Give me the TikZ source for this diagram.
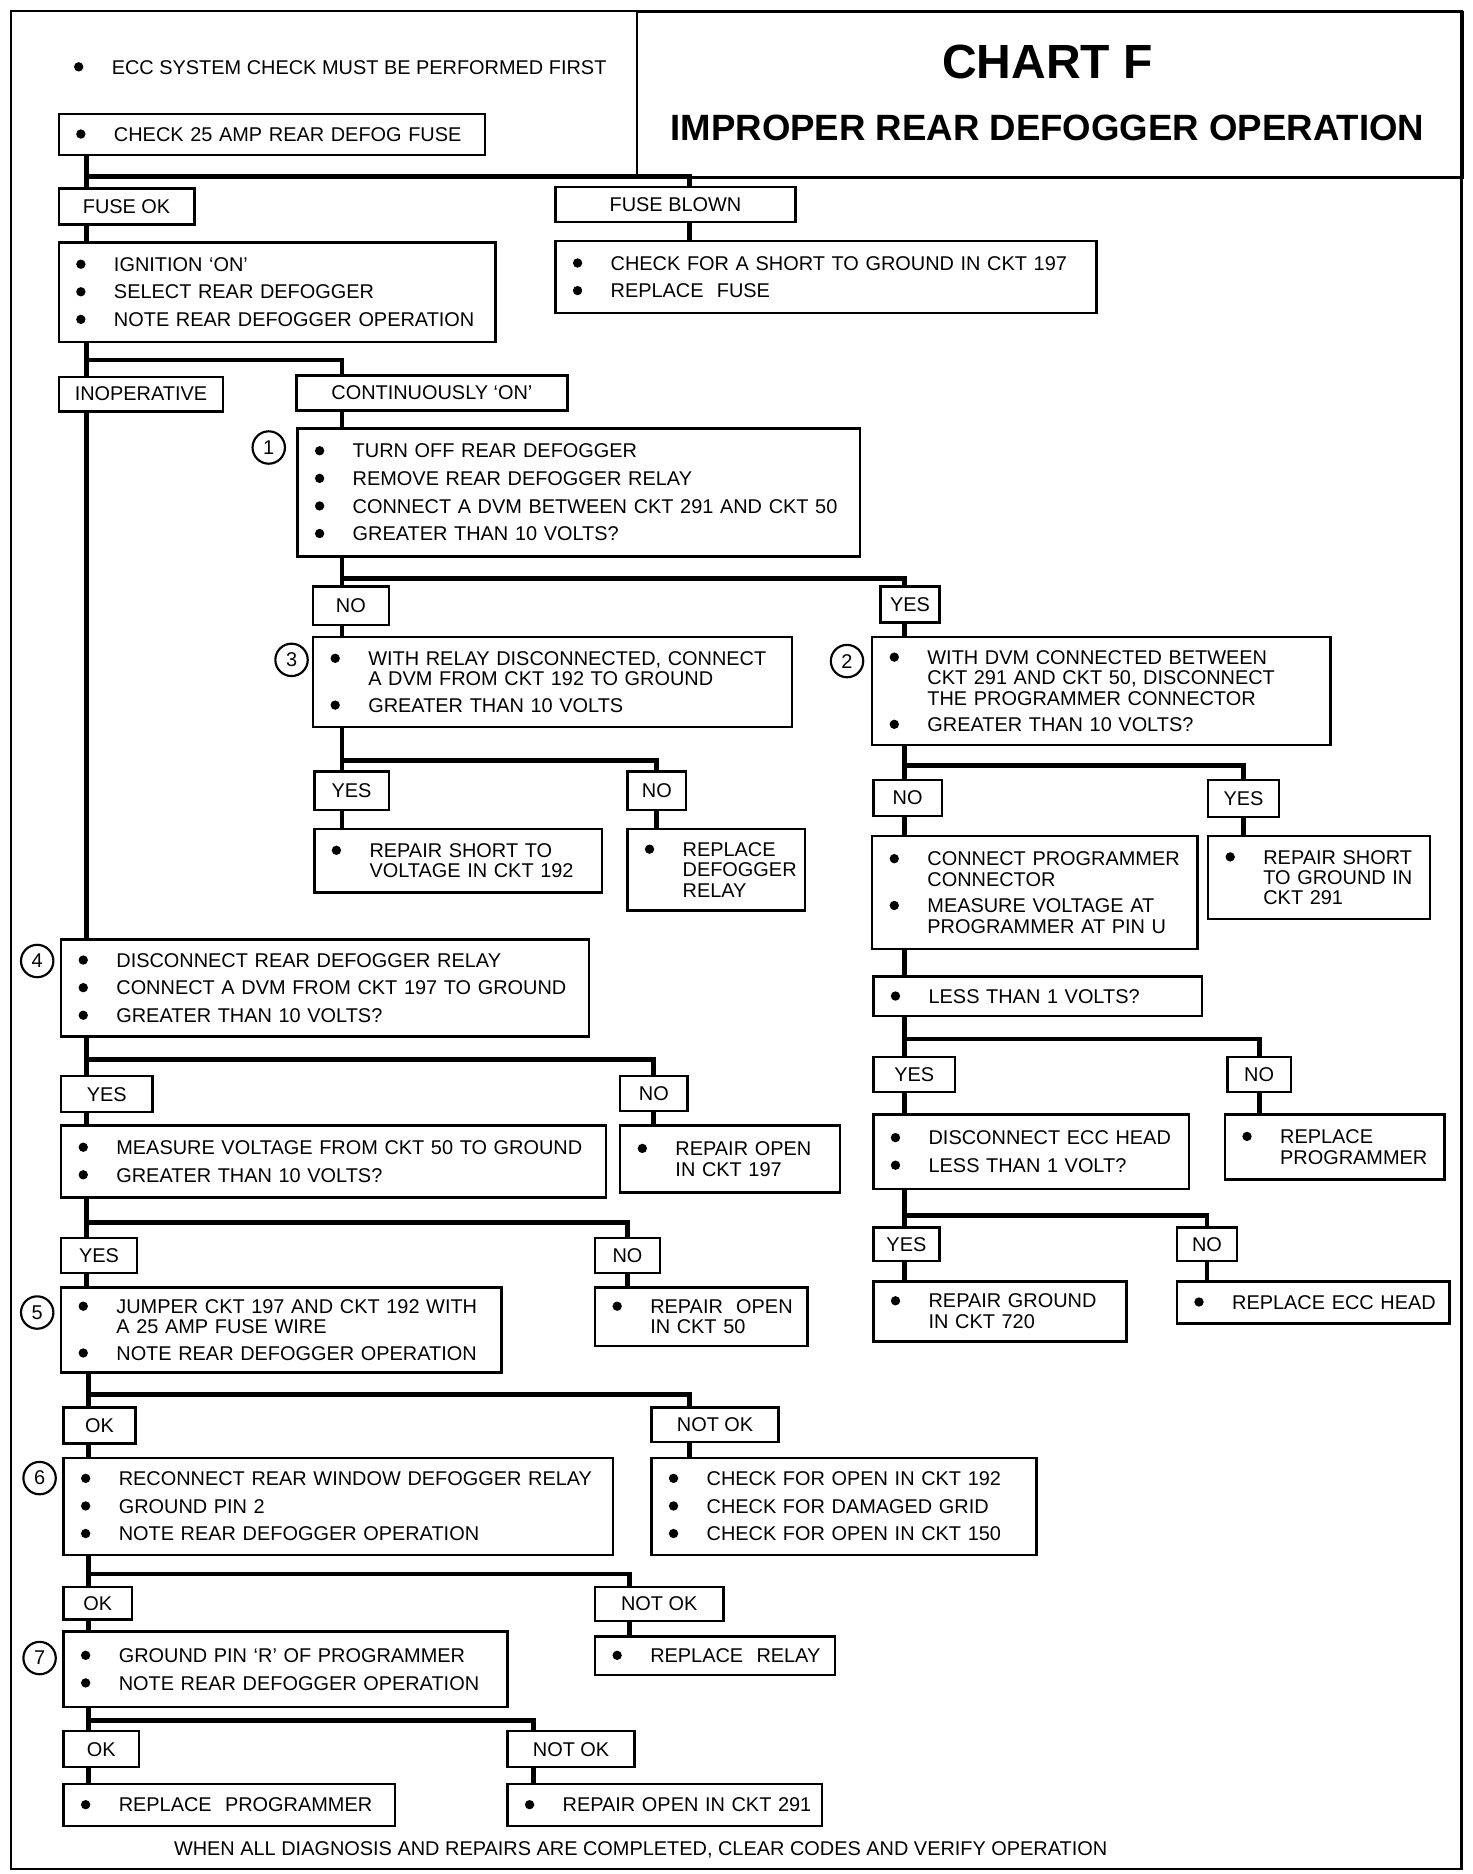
\documentclass[tikz,border=0pt]{standalone}
\usepackage{fontspec}
\setmainfont{Liberation Sans}
\newcommand{\chartfont}{\fontsize{16.6}{17}\selectfont}
\newcommand{\itm}[1]{\makebox[32pt][l]{\hspace*{0.5pt}\tikz[baseline=0pt]\fill (4pt,6pt) circle[radius=3.9pt];}\mbox{#1}}
\newcommand{\cont}[1]{\hspace*{32pt}\mbox{#1}}
\begin{document}
\begin{tikzpicture}[x=1pt, y=-1pt,
    box/.style 2 args={draw, line width=2pt, anchor=north west, inner xsep=14pt, inner ysep=2pt,
      align=left, text width=#1, minimum height=#2, font=\chartfont},
    tag/.style 2 args={draw, line width=2pt, anchor=north west, inner sep=0pt,
      minimum width=#1, minimum height=#2, font=\chartfont},
    stepno/.style={draw, circle, line width=1.8pt, inner sep=0pt, minimum size=27pt, font=\chartfont},
    wire/.style={line width=4pt}]
    \useasboundingbox (0,0) rectangle (1227,1562);
    \draw[line width=2pt] (9,9) rectangle (1218,1558);
    \node[draw, line width=2pt, anchor=north west, minimum width=688pt, minimum height=138pt] (title) at (530,9) {};
    \node[font=\bfseries\fontsize{40}{44}\selectfont] (chart) at (873,52) {CHART F};
    \node[font=\bfseries\fontsize{30.5}{34}\selectfont] (name) at (873,107) {IMPROPER REAR DEFOGGER OPERATION};
    \node[anchor=west, inner sep=0pt, font=\chartfont] (first) at (61,56) {\itm{ECC SYSTEM CHECK MUST BE PERFORMED FIRST}};

    \node[box={327pt}{34pt}] (b0) at (48,94) {\itm{CHECK 25 AMP REAR DEFOG FUSE}};
    \node[tag={113pt}{30pt}] (fuseok) at (48,156) {FUSE OK};
    \node[tag={200pt}{29pt}] (fuseblown) at (462,155) {FUSE BLOWN};
    \node[box={336pt}{83pt}] (b1) at (48,201) {\itm{IGNITION `ON'}\\[6pt]
      \itm{SELECT REAR DEFOGGER}\\[6pt]
      \itm{NOTE REAR DEFOGGER OPERATION}};
    \node[box={423pt}{60pt}] (fb1) at (462,200) {\itm{CHECK FOR A SHORT TO GROUND IN CKT 197}\\[6pt]
      \itm{REPLACE\ \ FUSE}};
    \node[tag={137pt}{29pt}] (inop) at (48,313) {INOPERATIVE};
    \node[tag={226pt}{29pt}] (conton) at (246,312) {CONTINUOUSLY `ON'};

    \node[stepno] (n1) at (224,373) {1};
    \node[box={441pt}{107pt}] (s1) at (247,356) {\itm{TURN OFF REAR DEFOGGER}\\[6pt]
      \itm{REMOVE REAR DEFOGGER RELAY}\\[6pt]
      \itm{CONNECT A DVM BETWEEN CKT 291 AND CKT 50}\\[6pt]
      \itm{GREATER THAN 10 VOLTS?}};
    \node[tag={63pt}{32pt}] (no1) at (260,488) {NO};
    \node[tag={49pt}{30pt}] (yes1) at (733,488) {YES};

    \node[stepno] (n3) at (243,550) {3};
    \node[box={371pt}{75pt}] (s3) at (260,530) {\itm{WITH RELAY DISCONNECTED, CONNECT}\\
      \cont{A DVM FROM CKT 192 TO GROUND}\\[5pt]
      \itm{GREATER THAN 10 VOLTS}};
    \node[tag={62pt}{32pt}] (yes3) at (261,642) {YES};
    \node[tag={49pt}{32pt}] (no3) at (522,642) {NO};
    \node[box={212pt}{53pt}] (rep3a) at (261,690) {\itm{REPAIR SHORT TO}\\
      \cont{VOLTAGE IN CKT 192}};
    \node[box={120pt}{68pt}] (rep3b) at (522,690) {\itm{REPLACE}\\
      \cont{DEFOGGER}\\
      \cont{RELAY}};

    \node[stepno] (n2) at (706,551) {2};
    \node[box={354pt}{90pt}] (s2) at (726,530) {\itm{WITH DVM CONNECTED BETWEEN}\\
      \cont{CKT 291 AND CKT 50, DISCONNECT}\\
      \cont{THE PROGRAMMER CONNECTOR}\\[5pt]
      \itm{GREATER THAN 10 VOLTS?}};
    \node[tag={57pt}{30pt}] (no2) at (727,649) {NO};
    \node[tag={59pt}{31pt}] (yes2) at (1006,649) {YES};
    \node[box={243pt}{94pt}] (conn) at (726,696) {\itm{CONNECT PROGRAMMER}\\
      \cont{CONNECTOR}\\[5pt]
      \itm{MEASURE VOLTAGE AT}\\
      \cont{PROGRAMMER AT PIN U}};
    \node[box={157pt}{69pt}] (rep2) at (1006,696) {\itm{REPAIR SHORT}\\
      \cont{TO GROUND IN}\\
      \cont{CKT 291}};
    \node[box={246pt}{33pt}] (less) at (727,813) {\itm{LESS THAN 1 VOLTS?}};
    \node[tag={68pt}{29pt}] (yes4) at (727,880) {YES};
    \node[tag={53pt}{29pt}] (no4) at (1022,880) {NO};
    \node[box={235pt}{62pt}] (ecc) at (727,928) {\itm{DISCONNECT ECC HEAD}\\[6pt]
      \itm{LESS THAN 1 VOLT?}};
    \node[box={155pt}{54pt}] (replprog) at (1020,928) {\itm{REPLACE}\\
      \cont{PROGRAMMER}};
    \node[tag={55pt}{28pt}] (yes5) at (727,1022) {YES};
    \node[tag={50pt}{28pt}] (no5) at (980,1022) {NO};
    \node[box={183pt}{50pt}] (repgnd) at (727,1067) {\itm{REPAIR GROUND}\\
      \cont{IN CKT 720}};
    \node[box={199pt}{35pt}] (replecc) at (980,1067) {\itm{REPLACE ECC HEAD}};

    \node[stepno] (n4) at (31,801) {4};
    \node[box={412pt}{81pt}] (s4) at (50,782) {\itm{DISCONNECT REAR DEFOGGER RELAY}\\[6pt]
      \itm{CONNECT A DVM FROM CKT 197 TO GROUND}\\[6pt]
      \itm{GREATER THAN 10 VOLTS?}};
    \node[tag={76pt}{30pt}] (yes6) at (50,896) {YES};
    \node[tag={56pt}{29pt}] (no6) at (516,896) {NO};
    \node[box={426pt}{60pt}] (meas) at (50,937) {\itm{MEASURE VOLTAGE FROM CKT 50 TO GROUND}\\[6pt]
      \itm{GREATER THAN 10 VOLTS?}};
    \node[box={155pt}{56pt}] (rep197) at (516,937) {\itm{REPAIR OPEN}\\
      \cont{IN CKT 197}};
    \node[tag={63pt}{29pt}] (yes7) at (50,1031) {YES};
    \node[tag={54pt}{29pt}] (no7) at (495,1031) {NO};
    \node[stepno] (n5) at (31,1094) {5};
    \node[box={339pt}{71pt}] (s5) at (50,1072) {\itm{JUMPER CKT 197 AND CKT 192 WITH}\\
      \cont{A 25 AMP FUSE WIRE}\\[5pt]
      \itm{NOTE REAR DEFOGGER OPERATION}};
    \node[box={149pt}{49pt}] (rep50) at (495,1072) {\itm{REPAIR\ \ OPEN}\\
      \cont{IN CKT 50}};

    \node[tag={60pt}{30pt}] (ok8) at (52,1172) {OK};
    \node[tag={106pt}{29pt}] (nok8) at (542,1172) {NOT OK};
    \node[stepno] (n6) at (33,1232) {6};
    \node[box={430pt}{81pt}] (s6) at (52,1214) {\itm{RECONNECT REAR WINDOW DEFOGGER RELAY}\\[6pt]
      \itm{GROUND PIN 2}\\[6pt]
      \itm{NOTE REAR DEFOGGER OPERATION}};
    \node[box={293pt}{81pt}] (chk) at (542,1214) {\itm{CHECK FOR OPEN IN CKT 192}\\[6pt]
      \itm{CHECK FOR DAMAGED GRID}\\[6pt]
      \itm{CHECK FOR OPEN IN CKT 150}};
    \node[tag={57pt}{27pt}] (ok9) at (52,1322) {OK};
    \node[tag={107pt}{28pt}] (nok9) at (495,1322) {NOT OK};
    \node[stepno] (n7) at (33,1382) {7};
    \node[box={342pt}{63pt}] (s7) at (52,1359) {\itm{GROUND PIN `R' OF PROGRAMMER}\\[6pt]
      \itm{NOTE REAR DEFOGGER OPERATION}};
    \node[box={172pt}{32pt}] (relay) at (495,1363) {\itm{REPLACE\ \ RELAY}};
    \node[tag={63pt}{30pt}] (ok10) at (52,1442) {OK};
    \node[tag={106pt}{30pt}] (nok10) at (422,1442) {NOT OK};
    \node[box={248pt}{35pt}] (replprog2) at (52,1486) {\itm{REPLACE\ \ PROGRAMMER}};
    \node[box={234pt}{35pt}] (rep291) at (422,1486) {\itm{REPAIR OPEN IN CKT 291}};
    \node[font=\chartfont] (last) at (534,1542) {WHEN ALL DIAGNOSIS AND REPAIRS ARE COMPLETED, CLEAR CODES AND VERIFY OPERATION};

    \draw[wire] ([xshift=24pt]b0.south west) -- ([xshift=24pt]fuseok.north west);
    \draw[wire] ([xshift=24pt,yshift=-17pt]b0.south west) -| ([xshift=113pt]fuseblown.north west);
    \draw[wire] ([xshift=113pt]fuseblown.south west) -- ([xshift=113pt]fb1.north west);
    \draw[wire] ([xshift=24pt]fuseok.south west) -- ([xshift=24pt]b1.north west);
    \draw[wire] ([xshift=24pt]b1.south west) -- ([xshift=24pt]inop.north west);
    \draw[wire] ([xshift=24pt,yshift=-14pt]b1.south west) -| ([xshift=39pt]conton.north west);
    \draw[wire] ([xshift=39pt]conton.south west) -- ([xshift=38pt]s1.north west);
    \draw[wire] ([xshift=38pt]s1.south west) -- ([xshift=25pt]no1.north west);
    \draw[wire] ([xshift=38pt,yshift=-17pt]s1.south west) -| ([xshift=21pt]yes1.north west);
    \draw[wire] ([xshift=25pt]no1.south west) -- ([xshift=25pt]s3.north west);
    \draw[wire] ([xshift=25pt]s3.south west) -- ([xshift=24pt]yes3.north west);
    \draw[wire] ([xshift=25pt,yshift=-27pt]s3.south west) -| (no3.north);
    \draw[wire] ([xshift=24pt]yes3.south west) -- ([xshift=24pt]rep3a.north west);
    \draw[wire] (no3.south) -- (no3.south |- rep3b.north);
    \draw[wire] ([xshift=21pt]yes1.south west) -- ([xshift=28pt]s2.north west);
    \draw[wire] ([xshift=28pt]s2.south west) -- ([xshift=27pt]no2.north west);
    \draw[wire] ([xshift=28pt,yshift=-16pt]s2.south west) -| (yes2.north);
    \draw[wire] ([xshift=27pt]no2.south west) -- ([xshift=28pt]conn.north west);
    \draw[wire] (yes2.south) -- (yes2.south |- rep2.north);
    \draw[wire] ([xshift=28pt]conn.south west) -- ([xshift=27pt]less.north west);
    \draw[wire] ([xshift=27pt]less.south west) -- ([xshift=27pt]yes4.north west);
    \draw[wire] ([xshift=27pt,yshift=-18pt]less.south west) -| (no4.north);
    \draw[wire] ([xshift=27pt]yes4.south west) -- ([xshift=27pt]ecc.north west);
    \draw[wire] (no4.south) -- (no4.south |- replprog.north);
    \draw[wire] ([xshift=27pt]ecc.south west) -- ([xshift=27pt]yes5.north west);
    \draw[wire] ([xshift=27pt,yshift=-21pt]ecc.south west) -| (no5.north);
    \draw[wire] ([xshift=27pt]yes5.south west) -- ([xshift=27pt]repgnd.north west);
    \draw[wire] (no5.south) -- (no5.south |- replecc.north);
    \draw[wire] ([xshift=24pt]inop.south west) -- ([xshift=22pt]s4.north west);
    \draw[wire] ([xshift=22pt]s4.south west) -- ([xshift=22pt]yes6.north west);
    \draw[wire] ([xshift=22pt,yshift=-18pt]s4.south west) -| (no6.north);
    \draw[wire] ([xshift=22pt]yes6.south west) -- ([xshift=22pt]meas.north west);
    \draw[wire] (no6.south) -- (no6.south |- rep197.north);
    \draw[wire] ([xshift=22pt]meas.south west) -- ([xshift=22pt]yes7.north west);
    \draw[wire] ([xshift=22pt,yshift=-20pt]meas.south west) -| (no7.north);
    \draw[wire] ([xshift=22pt]yes7.south west) -- ([xshift=22pt]s5.north west);
    \draw[wire] (no7.south) -- (no7.south |- rep50.north);
    \draw[wire] ([xshift=24pt]s5.south west) -- ([xshift=22pt]ok8.north west);
    \draw[wire] ([xshift=24pt,yshift=-17pt]s5.south west) -| ([xshift=33pt]nok8.north west);
    \draw[wire] ([xshift=22pt]ok8.south west) -- ([xshift=22pt]s6.north west);
    \draw[wire] ([xshift=33pt]nok8.south west) -- ([xshift=33pt]chk.north west);
    \draw[wire] ([xshift=22pt]s6.south west) -- ([xshift=22pt]ok9.north west);
    \draw[wire] ([xshift=22pt,yshift=-15pt]s6.south west) -| ([xshift=30pt]nok9.north west);
    \draw[wire] ([xshift=22pt]ok9.south west) -- ([xshift=22pt]s7.north west);
    \draw[wire] ([xshift=30pt]nok9.south west) -- ([xshift=30pt]relay.north west);
    \draw[wire] ([xshift=22pt]s7.south west) -- ([xshift=22pt]ok10.north west);
    \draw[wire] ([xshift=22pt,yshift=-10pt]s7.south west) -| ([xshift=23pt]nok10.north west);
    \draw[wire] ([xshift=22pt]ok10.south west) -- ([xshift=22pt]replprog2.north west);
    \draw[wire] ([xshift=23pt]nok10.south west) -- ([xshift=23pt]rep291.north west);
\end{tikzpicture}
\end{document}
